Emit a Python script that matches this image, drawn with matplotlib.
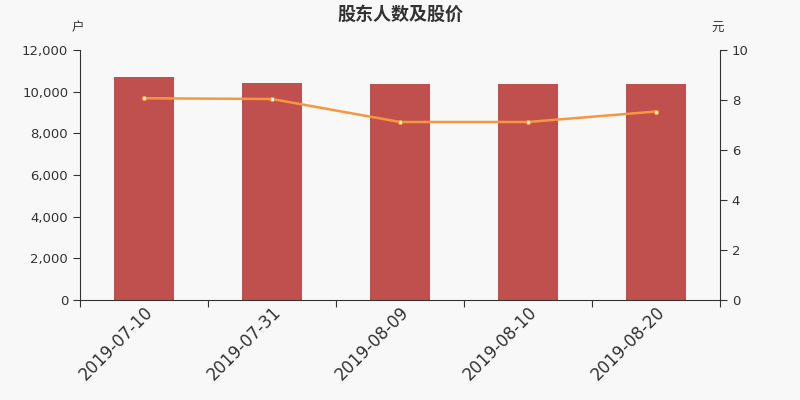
import matplotlib
matplotlib.use("Agg")
import matplotlib.pyplot as plt
from matplotlib.ticker import FuncFormatter, FixedLocator
import numpy as np

plt.rcParams['font.family'] = ['Noto Sans CJK SC', 'DejaVu Sans']

dates = ["2019-07-10", "2019-07-31", "2019-08-09", "2019-08-10", "2019-08-20"]
holders = [10720, 10420, 10390, 10390, 10350]
prices = [8.07, 8.04, 7.12, 7.12, 7.54]

bg = "#f8f8f8"
fig = plt.figure(figsize=(8, 4), dpi=100, facecolor=bg)
ax = fig.add_axes([0.1, 0.25, 0.8, 0.625], facecolor=bg)
x = np.arange(len(dates))
ax.bar(x, holders, width=0.47, color="#c0504d", zorder=2)
ax.set_xlim(-0.5, len(dates) - 0.5)
ax.set_ylim(0, 12000)
ax.set_yticks(np.arange(0, 12001, 2000))
ax.yaxis.set_major_formatter(FuncFormatter(lambda v, p: f"{int(v):,}"))

ax.xaxis.set_major_locator(FixedLocator(np.arange(-0.5, len(dates), 1.0)))
ax.xaxis.set_major_formatter(FuncFormatter(lambda v, p: ""))
ax.xaxis.set_minor_locator(FixedLocator(x))
ax.set_xticklabels(dates, minor=True, rotation=45, ha="right", rotation_mode="anchor",
                   fontsize=12, color="#333333", family="DejaVu Sans")
ax.tick_params(axis="x", which="minor", length=0, pad=2)
ax.tick_params(axis="x", which="major", length=5, color="#333333")
ax.tick_params(axis="y", labelsize=9.5, labelcolor="#333333", color="#333333", length=5)
for lbl in ax.get_yticklabels():
    lbl.set_family("DejaVu Sans")

for s in ["top", "right"]:
    ax.spines[s].set_visible(False)
ax.spines["left"].set_color("#333333")
ax.spines["bottom"].set_color("#333333")

ax2 = ax.twinx()
ax2.plot(x, prices, color="#f5973f", linewidth=1.8, marker="o", markersize=3,
         markerfacecolor="white", markeredgecolor="#f5973f", markeredgewidth=0.8, zorder=3)
ax2.set_ylim(0, 10)
ax2.set_yticks(np.arange(0, 11, 2))
ax2.tick_params(axis="y", labelsize=9.5, labelcolor="#333333", color="#333333", length=5)
for lbl in ax2.get_yticklabels():
    lbl.set_family("DejaVu Sans")
for s in ["top", "left", "bottom"]:
    ax2.spines[s].set_visible(False)
ax2.spines["right"].set_color("#333333")

fig.text(0.5, 0.965, "股东人数及股价", ha="center", va="center", fontsize=13,
         fontweight="bold", color="#333333")
fig.text(0.0975, 0.93, "户", ha="center", va="center", fontsize=9, color="#333333")
fig.text(0.8975, 0.93, "元", ha="center", va="center", fontsize=9, color="#333333")

fig.savefig("out.png", dpi=100, facecolor=bg)
